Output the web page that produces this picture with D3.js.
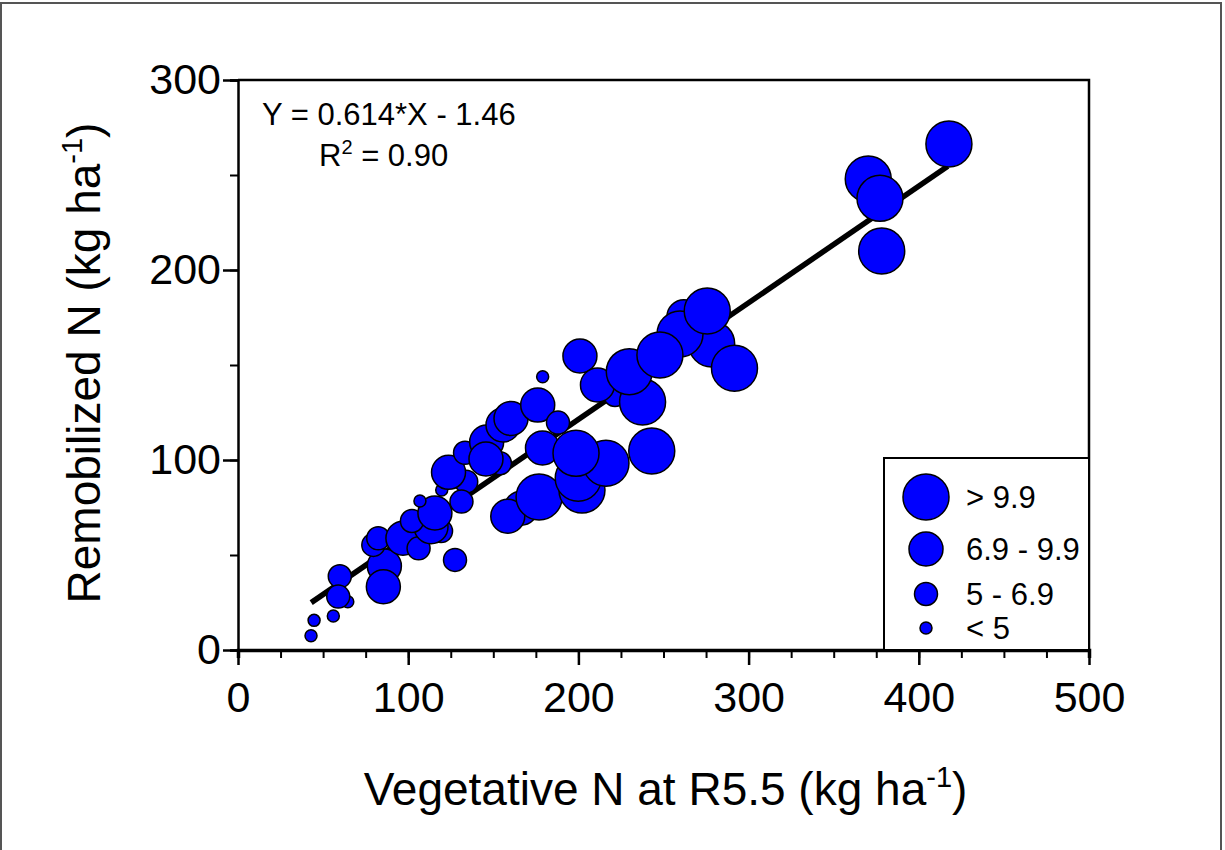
<!DOCTYPE html>
<html>
<head>
<meta charset="utf-8">
<script src="https://cdn.jsdelivr.net/npm/d3@7"></script>
<style>
  body { margin: 0; background: #fff; }
  text { font-family: "Liberation Sans", Arial, sans-serif; fill: #000; }
</style>
</head>
<body>
<div id="chart"></div>
<script>
// data (back-most points first)
const vegN = [42.9, 44.7, 56.0, 64.5, 59.8, 58.9, 86.0, 85.4, 79.5, 82.4, 96.9, 106.1,
  119.3, 113.4, 102.2, 115.7, 106.9, 119.7, 134.1, 123.7, 127.5, 131.3, 133.4, 146.1,
  153.9, 145.7, 155.7, 160.4, 176.1, 188.0, 179.0, 166.3, 158.5, 176.9, 202.1, 199.9,
  216.2, 178.9, 198.6, 221.5, 200.9, 211.2, 237.7, 229.9, 262.0, 278.3, 259.7, 247.9,
  275.7, 291.7, 243.1, 370.3, 377.2, 378.2, 417.7];
const remobN = [7.5, 15.6, 17.9, 25.4, 38.8, 28.1, 44.2, 33.3, 55.3, 58.8, 58.8, 53.5,
  62.6, 64.9, 67.9, 72.1, 78.4, 84.2, 88.6, 93.5, 47.4, 78.1, 103.8, 109.5,
  98.3, 100.5, 118.4, 121.9, 128.9, 119.7, 143.8, 74.6, 70.4, 80.5, 84.2, 90.4,
  98.3, 106.3, 103.5, 134.2, 154.7, 139.5, 130.5, 146.5, 175.4, 161.1, 166.3, 155.3,
  178.4, 148.3, 104.7, 247.9, 237.7, 210.0, 266.3];
// size class: 0 = "< 5", 1 = "5 - 6.9", 2 = "6.9 - 9.9", 3 = "> 9.9"
const nClass = [0, 0, 0, 0, 1, 1, 2, 2, 1, 1, 2, 1,
  1, 2, 1, 2, 0, 0, 1, 2, 1, 1, 1, 2,
  1, 2, 2, 2, 2, 1, 0, 2, 2, 3, 3, 3,
  3, 2, 3, 1, 2, 2, 3, 3, 2, 3, 3, 3,
  3, 3, 3, 3, 3, 3, 3];
const classLabels = ["< 5", "5 - 6.9", "6.9 - 9.9", "> 9.9"];
const legendOrder = [3, 2, 1, 0];
const xTicks = [0, 100, 200, 300, 400, 500];
const yTicks = [0, 100, 200, 300];
const slope = 0.614, intercept = -1.46, r2 = "0.90";
const fitRange = [43, 417];

const W = 1225, H = 850;
const svg = d3.select("#chart").append("svg")
  .attr("width", W).attr("height", H);

// outer frame of the picture
svg.append("rect")
  .attr("x", 1).attr("y", 3).attr("width", 1220).attr("height", 850)
  .attr("fill", "none").attr("stroke", "#555").attr("stroke-width", 2);

const x = d3.scaleLinear().domain([0, 500]).range([238, 1089]);
const y = d3.scaleLinear().domain([0, 300]).range([650, 80]);
const r = d3.scaleOrdinal().domain([0, 1, 2, 3]).range([6, 11.5, 17, 23]);

// top and right frame lines
svg.append("path")
  .attr("d", `M${x(0)},${y(300)}H${x(500)}V${y(0)}`)
  .attr("fill", "none").attr("stroke", "#000").attr("stroke-width", 2.5);

// x axis
const xAxis = svg.append("g").attr("transform", `translate(0,${y(0)})`);
xAxis.call(d3.axisBottom(x).tickValues(d3.range(0, 501, 25)).tickSize(8).tickFormat(""));
xAxis.call(g => g.selectAll(".tick line").attr("stroke-width", 2));
const xMajor = svg.append("g").attr("transform", `translate(0,${y(0)})`)
  .call(d3.axisBottom(x).tickValues(xTicks).tickSize(15).tickPadding(16).tickFormat(d3.format("d")));
xMajor.select(".domain").remove();
xMajor.selectAll(".tick line").attr("stroke-width", 2.5);
xMajor.selectAll(".tick text").style("font-size", "43px").attr("font-family", null);
xAxis.select(".domain").attr("stroke-width", 3.5);

// y axis
const yAxis = svg.append("g").attr("transform", `translate(${x(0)},0)`);
yAxis.call(d3.axisLeft(y).tickValues(d3.range(0, 301, 50)).tickSize(8).tickFormat(""));
yAxis.selectAll(".tick line").attr("stroke-width", 2);
yAxis.select(".domain").attr("stroke-width", 2.5);
const yMajor = svg.append("g").attr("transform", `translate(${x(0)},0)`)
  .call(d3.axisLeft(y).tickValues(yTicks).tickSize(15).tickPadding(2).tickFormat(d3.format("d")));
yMajor.select(".domain").remove();
yMajor.selectAll(".tick line").attr("stroke-width", 2.5);
yMajor.selectAll(".tick text").style("font-size", "43px").attr("font-family", null);

// axis titles
const xt = svg.append("text")
  .attr("x", (x(0) + x(500)) / 2 + 2).attr("y", 805)
  .attr("text-anchor", "middle").style("font-size", "46px");
xt.append("tspan").text("Vegetative N at R5.5 (kg ha");
xt.append("tspan").attr("dy", -18).style("font-size", "29px").text("-1");
xt.append("tspan").attr("dy", 18).text(")");

const yt = svg.append("text")
  .attr("transform", `translate(100,${(y(0) + y(300)) / 2 - 2}) rotate(-90)`)
  .attr("text-anchor", "middle").style("font-size", "46px");
yt.append("tspan").text("Remobilized N (kg ha");
yt.append("tspan").attr("dy", -18).style("font-size", "29px").text("-1");
yt.append("tspan").attr("dy", 18).text(")");

// regression line
svg.append("line")
  .attr("x1", x(fitRange[0])).attr("y1", y(slope * fitRange[0] + intercept))
  .attr("x2", x(fitRange[1])).attr("y2", y(slope * fitRange[1] + intercept))
  .attr("stroke", "#000").attr("stroke-width", 5.5);

// points
svg.append("g").selectAll("circle")
  .data(vegN.map((v, i) => ({ v: v, n: remobN[i], c: nClass[i] })))
  .join("circle")
  .attr("cx", d => x(d.v))
  .attr("cy", d => y(d.n))
  .attr("r", d => r(d.c))
  .attr("fill", "#0000ff")
  .attr("stroke", "#000")
  .attr("stroke-width", 1.5);

// equation
svg.append("text").attr("x", 262).attr("y", 125).style("font-size", "31px")
  .text(`Y = ${slope}*X - ${Math.abs(intercept)}`);
const rt = svg.append("text").attr("x", 319).attr("y", 166).style("font-size", "31px");
rt.append("tspan").text("R");
rt.append("tspan").attr("dy", -12).style("font-size", "20px").text("2");
rt.append("tspan").attr("dy", 12).text(` = ${r2}`);

// legend
svg.append("rect")
  .attr("x", 884).attr("y", 458).attr("width", 1089 - 884).attr("height", 650 - 458)
  .attr("fill", "#fff").attr("stroke", "#000").attr("stroke-width", 2);
const legY = [497, 549, 594, 628];
const leg = svg.append("g").selectAll("g")
  .data(legendOrder)
  .join("g")
  .attr("transform", (d, i) => `translate(926,${legY[i]})`);
leg.append("circle")
  .attr("r", d => r(d))
  .attr("fill", "#0000ff").attr("stroke", "#000").attr("stroke-width", 1.5);
leg.append("text")
  .attr("x", 40).attr("y", 11)
  .style("font-size", "31px")
  .text(d => classLabels[d]);
</script>
</body>
</html>
